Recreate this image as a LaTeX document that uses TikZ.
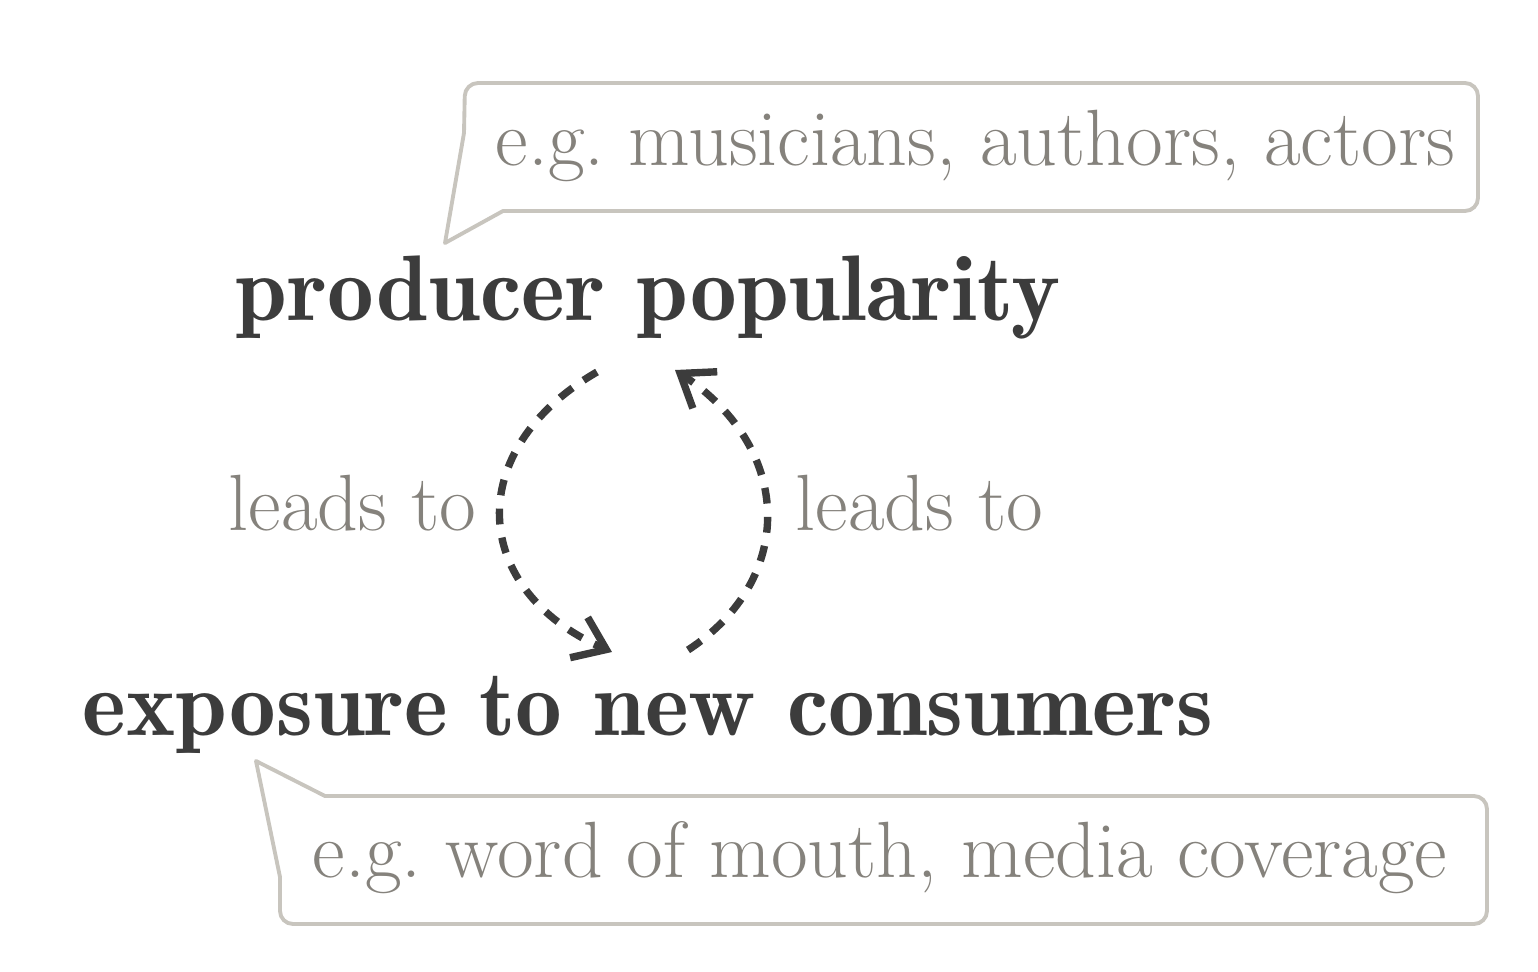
\documentclass[tikz,border=0pt]{standalone}
\usetikzlibrary{arrows.meta}
\definecolor{boxline}{HTML}{C8C5BE}
\definecolor{greytext}{HTML}{85827C}
\definecolor{darktext}{HTML}{3C3C3C}
\tikzset{
  note/.style={anchor=base west, inner sep=0pt, text=greytext, font=\fontsize{22.7}{27}\selectfont\frenchspacing},
  main/.style={anchor=base west, inner sep=0pt, text=darktext, font=\fontsize{26.5}{32}\fontseries{b}\selectfont},
  callout/.style={draw=boxline, line width=1.1pt, line join=round},
  loop/.style={draw=darktext, line width=2.1pt, dash pattern=on 4.5pt off 3.8pt,
    -{Straight Barb[length=8.5pt, width=12.5pt, line width=2.1pt]}}
}
\begin{document}
\begin{tikzpicture}[x=0.01cm, y=-0.01cm]
\useasboundingbox (0,0) rectangle (1538,972);
% callouts
\draw[callout] (445,243) -- (464,133) [rounded corners=0.13cm] -- (465,83) -- (1478,83) -- (1478,211) [sharp corners] -- (503,211) -- cycle;
\draw[callout] (256,761) -- (325,796) [rounded corners=0.13cm] -- (1487,796) -- (1487,924) -- (280,924) [sharp corners] -- (280,877) -- cycle;
% texts
\node[note] (ex1) at (495,165) {e.g. musicians, authors, actors};
\node[main] (prod) at (235,320) {producer popularity};
\node[note] (l1) at (228,530) {leads to};
\node[note] (l2) at (795,530) {leads to};
\node[main] (expo) at (82,735) {exposure to new consumers};
\node[note] (ex2) at (312,877) {e.g. word of mouth, media coverage};
% loop connectors
\coordinate (a1) at (597,372);
\coordinate (a2) at (612,652);
\coordinate (b1) at (688,650);
\coordinate (b2) at (675,370);
\draw[loop] (a1) .. controls (462,450) and (470,590) .. (a2);
\draw[loop] (b1) .. controls (795,580) and (795,450) .. (b2);
\end{tikzpicture}
\end{document}
